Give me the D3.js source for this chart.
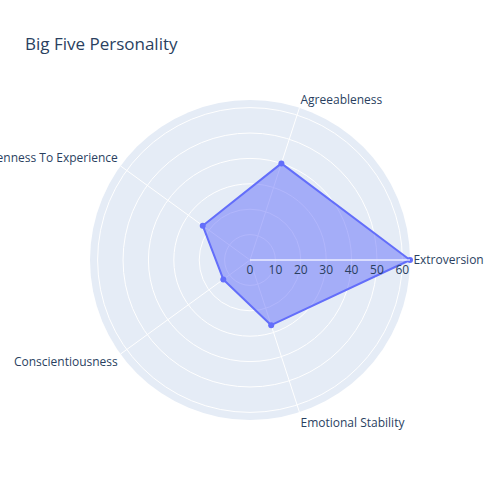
<!DOCTYPE html>
<html><head><meta charset="utf-8">
<script src="https://cdn.jsdelivr.net/npm/d3@7"></script>
<style>body{margin:0;background:#fff}svg{display:block;font-family:"Open Sans",sans-serif}</style>
</head><body><svg id="c" width="500" height="500"></svg>
<script>
const categories = ["Extroversion","Agreeableness","Openness To Experience","Conscientiousness","Emotional Stability"];
const values = [63, 40, 23, 13, 27];
const radialTicks = [0,10,20,30,40,50,60];
const title = "Big Five Personality";

const svg = d3.select("#c");
const cx = 250, cy = 260, R = 160;
const rMax = d3.max(values);
const r = d3.scaleLinear().domain([0, rMax]).range([0, R]);
const ang = d3.scaleLinear().domain([0, categories.length]).range([0, 2*Math.PI]);
const px = (v,i) => cx + r(v)*Math.cos(ang(i));
const py = (v,i) => cy - r(v)*Math.sin(ang(i));
const ink = "#2a3f5f";

svg.append("text").attr("x",25).attr("y",50).attr("fill",ink).attr("font-size",17).text(title);

const g = svg.append("g");
g.append("circle").attr("cx",cx).attr("cy",cy).attr("r",R).attr("fill","#E5ECF6");
radialTicks.filter(t=>t>0).forEach(t=>{
  g.append("circle").attr("cx",cx).attr("cy",cy).attr("r",r(t)).attr("fill","none").attr("stroke","#fff").attr("stroke-width",1);
});
categories.forEach((c,i)=>{
  g.append("line").attr("x1",cx).attr("y1",cy).attr("x2",cx+R*Math.cos(ang(i))).attr("y2",cy-R*Math.sin(ang(i)))
   .attr("stroke","#fff").attr("stroke-width",1);
});

const pts = values.map((v,i)=>[px(v,i),py(v,i)]);
g.append("path").attr("d", d3.line().curve(d3.curveLinearClosed)(pts))
 .attr("fill","rgba(99,110,250,0.5)").attr("stroke","#636efa").attr("stroke-width",2).attr("stroke-linejoin","round");
g.selectAll("circle.pt").data(values).join("circle").attr("class","pt")
 .attr("cx",(v,i)=>px(v,i)).attr("cy",(v,i)=>py(v,i)).attr("r",3).attr("fill","#636efa");

// radial axis line (above traces)
g.append("line").attr("x1",cx).attr("y1",cy).attr("x2",cx+R).attr("y2",cy).attr("stroke","#fff").attr("stroke-opacity",0.75).attr("stroke-width",1.5);
g.selectAll("text.rt").data(radialTicks).join("text").attr("class","rt")
 .attr("x",d=>cx+r(d)).attr("y",cy+14.3).attr("text-anchor","middle").attr("fill",ink).attr("font-size",12).text(d=>d);

categories.forEach((c,i)=>{
  const a = ang(i), s = Math.sin(a), co = Math.cos(a);
  const x = cx + (R+3.4)*co;
  const y0 = cy - R*s;
  const off = s > 0.1 ? -3.6 : (s < -0.1 ? 5.9 - 9.9*s : 4);
  g.append("text").attr("x",x).attr("y",y0+off)
   .attr("text-anchor", co > 0.1 ? "start" : (co < -0.1 ? "end" : "middle"))
   .attr("fill",ink).attr("font-size",12).text(c);
});
</script></body></html>
